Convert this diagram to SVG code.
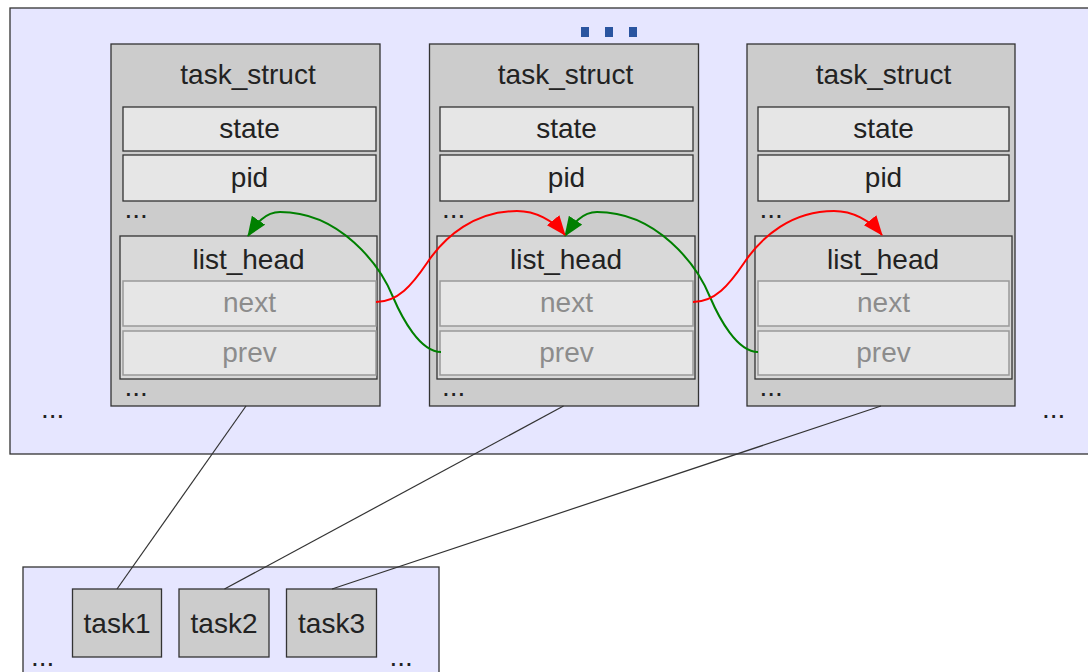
<svg xmlns="http://www.w3.org/2000/svg" width="1088" height="672" viewBox="0 0 1088 672">
<defs>
<style>
.area{fill:#e6e6ff;stroke:#333;stroke-width:1.3}
.ts{fill:#cccccc;stroke:#333;stroke-width:1.3}
.fld{fill:#e6e6e6;stroke:#333;stroke-width:1.3}
.lh{fill:#d9d9d9;stroke:#333;stroke-width:1.3}
.sub{fill:#e6e6e6;stroke:#999;stroke-width:1.5}
.task{fill:#cccccc;stroke:#333;stroke-width:1.3}
text{font-family:"Liberation Sans",Arial,sans-serif;font-size:28px;fill:#222}
.c{text-anchor:middle}
.g{fill:#8c8c8c}
.link{stroke:#333;stroke-width:1.2;fill:none}
.nx{stroke:#ff0000;stroke-width:2;fill:none;marker-end:url(#ar)}
.pv{stroke:#008000;stroke-width:2;fill:none;marker-end:url(#ag)}
.dot{fill:#2a55a0}
</style>
<marker id="ar" viewBox="0 0 20 16" refX="19" refY="8" markerWidth="20" markerHeight="16" markerUnits="userSpaceOnUse" orient="auto"><path d="M0,0 L20,8 L0,16 z" fill="#ff0000"/></marker>
<marker id="ag" viewBox="0 0 20 16" refX="19" refY="8" markerWidth="20" markerHeight="16" markerUnits="userSpaceOnUse" orient="auto"><path d="M0,0 L20,8 L0,16 z" fill="#008000"/></marker>
</defs>
<g id="kernel-area">
<rect class="area" x="10" y="8" width="1090" height="446"/>
<rect class="dot" x="581" y="27" width="8" height="10"/>
<rect class="dot" x="605" y="27" width="8" height="10"/>
<rect class="dot" x="629" y="27" width="8" height="10"/>
<text x="41" y="418">...</text>
<text x="1042" y="418">...</text>
</g>
<g id="user-area">
<rect class="area" x="23" y="567" width="416" height="120"/>
<text x="31" y="666">...</text>
<text x="389.5" y="666">...</text>
</g>
<g id="ts1">
<rect class="ts" x="111" y="44" width="269" height="362"/>
<text class="c" x="248" y="84">task_struct</text>
<rect class="fld" x="123" y="107" width="253" height="44"/>
<text class="c" x="249.5" y="138">state</text>
<rect class="fld" x="123" y="155" width="253" height="46"/>
<text class="c" x="249.5" y="187">pid</text>
<text x="124.5" y="218">...</text>
<rect class="lh" x="120" y="236" width="257" height="143"/>
<text class="c" x="248.5" y="269">list_head</text>
<rect class="sub" x="123" y="281" width="253" height="45"/>
<text class="c g" x="249.5" y="312">next</text>
<rect class="sub" x="123" y="331" width="253" height="44"/>
<text class="c g" x="249.5" y="362">prev</text>
<text x="124.5" y="396">...</text>
</g>
<g id="ts2">
<rect class="ts" x="429.5" y="44" width="269" height="362"/>
<text class="c" x="565.5" y="84">task_struct</text>
<rect class="fld" x="440" y="107" width="253" height="44"/>
<text class="c" x="566.5" y="138">state</text>
<rect class="fld" x="440" y="155" width="253" height="46"/>
<text class="c" x="566.5" y="187">pid</text>
<text x="442" y="218">...</text>
<rect class="lh" x="437" y="236" width="258" height="143"/>
<text class="c" x="566" y="269">list_head</text>
<rect class="sub" x="440" y="281" width="253" height="45"/>
<text class="c g" x="566.5" y="312">next</text>
<rect class="sub" x="440" y="331" width="253" height="44"/>
<text class="c g" x="566.5" y="362">prev</text>
<text x="442" y="396">...</text>
</g>
<g id="ts3">
<rect class="ts" x="747" y="44" width="268" height="362"/>
<text class="c" x="883.5" y="84">task_struct</text>
<rect class="fld" x="758" y="107" width="251" height="44"/>
<text class="c" x="883.5" y="138">state</text>
<rect class="fld" x="758" y="155" width="251" height="46"/>
<text class="c" x="883.5" y="187">pid</text>
<text x="759.5" y="218">...</text>
<rect class="lh" x="755" y="236" width="257" height="143"/>
<text class="c" x="883" y="269">list_head</text>
<rect class="sub" x="758" y="281" width="251" height="45"/>
<text class="c g" x="883.5" y="312">next</text>
<rect class="sub" x="758" y="331" width="251" height="44"/>
<text class="c g" x="883.5" y="362">prev</text>
<text x="759.5" y="396">...</text>
</g>
<g id="task1">
<rect class="task" x="72.5" y="589" width="89" height="68"/>
<text class="c" x="117" y="633">task1</text>
</g>
<g id="task2">
<rect class="task" x="179" y="589" width="90" height="68"/>
<text class="c" x="224" y="633">task2</text>
</g>
<g id="task3">
<rect class="task" x="286.5" y="589" width="90" height="68"/>
<text class="c" x="331.5" y="633">task3</text>
</g>
<g id="connectors">
<line class="link" x1="117" y1="589" x2="246" y2="406"/>
<line class="link" x1="224.5" y1="589" x2="563.5" y2="406"/>
<line class="link" x1="332" y1="589" x2="881" y2="406"/>
<path class="pv" d="M441,352 C420,352 402,318 393,297 C380,265 340,212 280,212 C265,212 256,224 248,236"/>
<path class="pv" d="M758,352 C737,352 719,318 710,297 C697,265 657,212 597,212 C582,212 573,224 565,236"/>
<path class="nx" d="M376,302 C398,302 412,285 427,263 C445,236 475,211 517,211 C535,211 553,220 565,235"/>
<path class="nx" d="M693,302 C715,302 729,285 744,263 C762,236 792,211 834,211 C852,211 870,220 882,235"/>
</g>
</svg>
